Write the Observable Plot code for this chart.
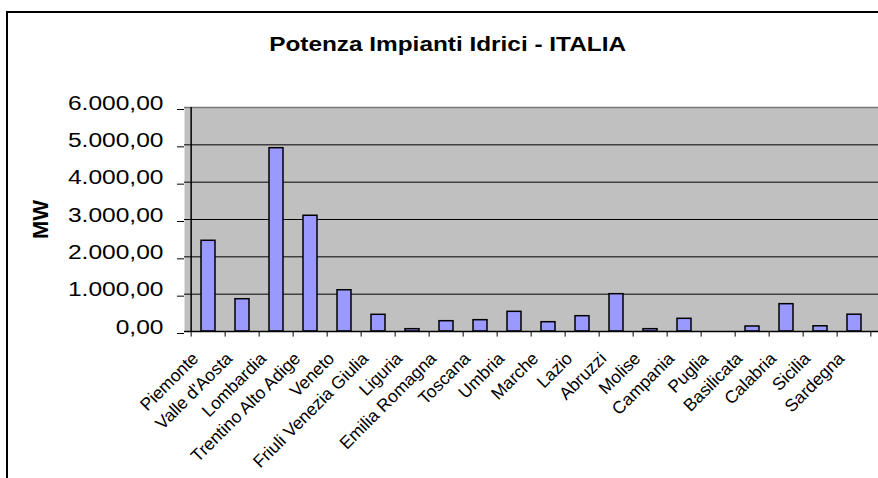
<!DOCTYPE html>
<html>
<head>
<meta charset="utf-8">
<script src="https://cdn.jsdelivr.net/npm/d3@7"></script>
<script src="https://cdn.jsdelivr.net/npm/@observablehq/plot@0.6"></script>
<style>
  html, body { margin: 0; padding: 0; background: #fff; }
  #wrap { position: relative; width: 878px; height: 478px; overflow: hidden; font-family: "Liberation Sans", Arial, sans-serif; }
  #border { position: absolute; left: 6px; top: 11px; width: 900px; height: 500px; border-left: 2px solid #000; border-top: 2px solid #000; }
  #title { position: absolute; left: 0; top: 32px; width: 895px; text-align: center; font-weight: bold; font-size: 21px; transform: scaleX(1.16); transform-origin: 447px 0; white-space: nowrap; }
  #chart { position: absolute; left: 0; top: 0; }
</style>
</head>
<body>
<div id="wrap">
  <div id="border"></div>
  <div id="chart"></div>
  <div id="title">Potenza Impianti Idrici - ITALIA</div>
</div>
<script>
const regions = ["Piemonte", "Valle d'Aosta", "Lombardia", "Trentino Alto Adige", "Veneto",
  "Friuli Venezia Giulia", "Liguria", "Emilia Romagna", "Toscana", "Umbria", "Marche", "Lazio",
  "Abruzzi", "Molise", "Campania", "Puglia", "Basilicata", "Calabria", "Sicilia", "Sardegna"];
const powerMW = [2430, 865, 4910, 3100, 1105, 447, 62, 276, 303, 527, 249, 410,
  1000, 62, 340, 0, 134, 732, 140, 450];
const yTicks = [0, 1000, 2000, 3000, 4000, 5000, 6000];
const gridTicks = [1000, 2000, 3000, 4000, 5000];
const topTick = [6000];
const yLabel = "MW";

const data = regions.map((r, i) => ({region: r, value: powerMW[i]}));
const fmt = v => v.toLocaleString("it-IT", {minimumFractionDigits: 2, maximumFractionDigits: 2, useGrouping: "always"})
  .replace(/^(\d)(\d{3}),/, "$1.$2,");

const W = 878, H = 478, mL = 184, mR = 0, mT = 107, mB = 147;
const half = (W - mL - mR) / regions.length / 2;

const chart = Plot.plot({
  width: W, height: H,
  marginLeft: mL, marginRight: mR, marginTop: mT, marginBottom: mB,
  style: {fontFamily: "'Liberation Sans', Arial, sans-serif", background: "transparent", color: "#000"},
  x: {domain: regions, paddingInner: 0.576, paddingOuter: 0.288, axis: null},
  y: {domain: [0, 6000], axis: null},
  marks: [
    Plot.frame({fill: "#C0C0C0", stroke: null}),
    Plot.ruleY(gridTicks, {stroke: "#000", strokeWidth: 1}),
    Plot.ruleY(topTick, {stroke: "#777", strokeWidth: 1.5}),
    Plot.barY(data, {x: "region", y: "value", fill: "#9999FF", stroke: "#000", strokeWidth: 1.5}),
    Plot.ruleY([0], {stroke: "#000", strokeWidth: 1.5}),
    Plot.ruleX([regions[0]], {dx: -half, stroke: "#000", strokeWidth: 1.5}),
    Plot.ruleX(regions, {dx: -half, y1: 0, y2: -150, stroke: "#000"}),
    Plot.ruleX([regions[regions.length - 1]], {dx: half - 1, y1: 0, y2: -150, stroke: "#000"}),
    Plot.axisY({ticks: yTicks, tickFormat: fmt, tickSize: 7, tickPadding: 14, fontSize: 21, label: null, stroke: "#000", dy: 2}),
    Plot.text(regions, {x: d => d, text: d => d, frameAnchor: "bottom", rotate: -45, textAnchor: "end", lineAnchor: "bottom", dx: -9, dy: 28, fontSize: 17.5, fill: "#000"}),
    Plot.text([yLabel], {frameAnchor: "left", dx: -144, rotate: -90, text: d => d, textAnchor: "middle", lineAnchor: "middle", fontWeight: "bold", fontSize: 22, fill: "#000"})
  ]
});
document.getElementById("chart").appendChild(chart);

// Stretch y tick labels horizontally (as in the reference rendering)
chart.querySelectorAll('[aria-label="y-axis tick label"] text').forEach(el => {
  let t = el.getAttribute("transform") || "";
  if (el.hasAttribute("x") || el.hasAttribute("y")) {
    const x = +el.getAttribute("x") || 0, y = +el.getAttribute("y") || 0;
    el.removeAttribute("x"); el.removeAttribute("y");
    t = `translate(${x},${y}) ` + t;
  }
  el.setAttribute("transform", t + " scale(1.17,1)");
});
</script>
</body>
</html>
